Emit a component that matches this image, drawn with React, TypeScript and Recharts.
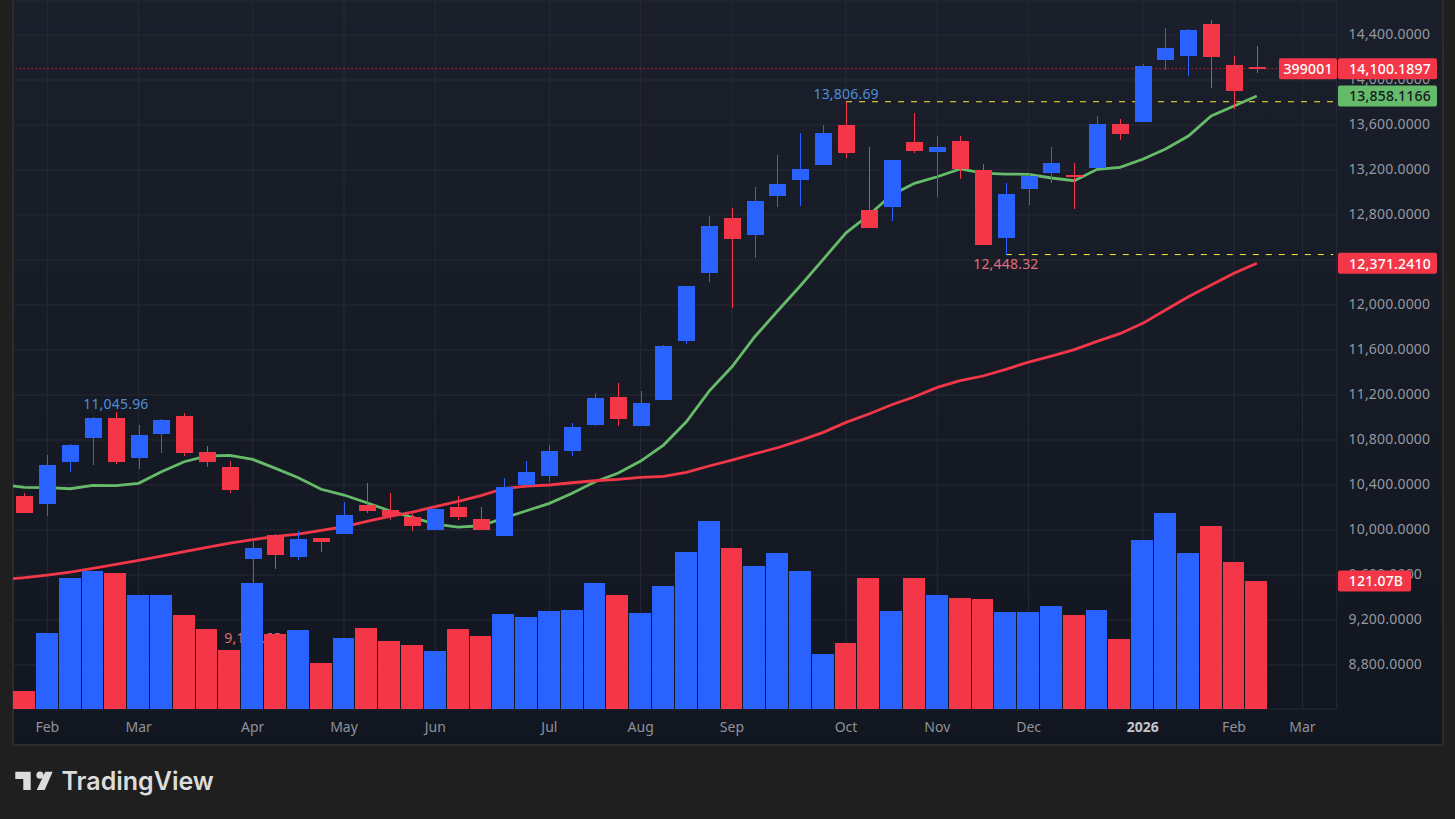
import React from 'react';
import {
  Bar,
  CartesianGrid,
  ComposedChart,
  Line,
  ReferenceDot,
  ReferenceLine,
  XAxis,
  YAxis,
} from 'recharts';

// Weekly categories: one lead-in week (off the pane's left edge) then the visible weeks and the empty future slots.
const weeks = [
  '2025-01-20', '2025-01-27', '2025-02-03', '2025-02-10', '2025-02-17', '2025-02-24', '2025-03-03', '2025-03-10',
  '2025-03-17', '2025-03-24', '2025-03-31', '2025-04-07', '2025-04-14', '2025-04-21', '2025-04-28', '2025-05-05',
  '2025-05-12', '2025-05-19', '2025-05-26', '2025-06-02', '2025-06-09', '2025-06-16', '2025-06-23', '2025-06-30',
  '2025-07-07', '2025-07-14', '2025-07-21', '2025-07-28', '2025-08-04', '2025-08-11', '2025-08-18', '2025-08-25',
  '2025-09-01', '2025-09-08', '2025-09-15', '2025-09-22', '2025-09-29', '2025-10-06', '2025-10-13', '2025-10-20',
  '2025-10-27', '2025-11-03', '2025-11-10', '2025-11-17', '2025-11-24', '2025-12-01', '2025-12-08', '2025-12-15',
  '2025-12-22', '2025-12-29', '2026-01-05', '2026-01-12', '2026-01-19', '2026-01-26', '2026-02-02', '2026-02-09',
  '2026-02-16', '2026-02-23', '2026-03-02',
];

const monthTicks = [
  '2025-02-03', '2025-03-03', '2025-04-07', '2025-05-05', '2025-06-02', '2025-07-07', '2025-08-04',
  '2025-09-01', '2025-10-06', '2025-11-03', '2025-12-01', '2026-01-05', '2026-02-02', '2026-02-23',
];
const monthLabels = ['Feb', 'Mar', 'Apr', 'May', 'Jun', 'Jul', 'Aug', 'Sep', 'Oct', 'Nov', 'Dec', '2026', 'Feb', 'Mar'];

const priceTicks = [8800, 9200, 9600, 10000, 10400, 10800, 11200, 11600, 12000, 12400, 12800, 13200, 13600, 14000, 14400];

// Candles, starting at 2025-01-27.
const opens = [
  10302, 10234, 10607, 10820, 10995, 10642, 10856, 11013, 10693, 10560, 9745, 9955, 9762, 9929, 9967,
  10222, 10178, 10115, 10002, 10204, 10098, 9949, 10397, 10480, 10702, 10933, 11182, 10924, 11155, 11680,
  12284, 12773, 12622, 12969, 13111, 13244, 13600, 12844, 12871, 13449, 13360, 13458, 13200, 12595, 13031,
  13173, 13155, 13218, 13609, 13627, 14178, 14213, 14498, 14133, 14115,
];
const closes = [
  10151, 10578, 10755, 10995, 10607, 10844, 10978, 10687, 10607, 10358, 9840, 9780, 9920, 9896, 10133,
  10171, 10124, 10038, 10187, 10118, 10002, 10382, 10515, 10702, 10915, 11173, 10987, 11129, 11635, 12169,
  12702, 12587, 12924, 13075, 13209, 13529, 13351, 12684, 13289, 13369, 13404, 13209, 12533, 12987, 13149,
  13262, 13138, 13609, 13520, 14124, 14284, 14444, 14204, 13902, 14100.19,
];
const highs = [
  10329, 10667, 10764, 11004, 11045.96, 10933, 10987, 11040, 10746, 10613, 9911, 9964, 9991, 9933, 10249,
  10418, 10329, 10142, 10213, 10302, 10204, 10462, 10613, 10755, 10951, 11218, 11306, 11235, 11644, 12169,
  12791, 12862, 13049, 13333, 13529, 13600, 13806.69, 13404, 13289, 13707, 13502, 13502, 13253, 13084, 13164,
  13404, 13262, 13680, 13653, 14142, 14462, 14453, 14533, 14213, 14302,
];
const lows = [
  10148, 10127, 10518, 10580, 10589, 10545, 10687, 10660, 10562, 10331, 9118.68, 9656, 9736, 9807, 9967,
  10154, 10091, 9993, 10002, 10091, 10002, 9949, 10397, 10426, 10658, 10924, 10924, 10924, 11155, 11653,
  12204, 11976, 12418, 12871, 12880, 13244, 13307, 12684, 12747, 13351, 12960, 13120, 12533, 12448.32, 12889,
  13084, 12853, 13218, 13467, 13627, 14089, 14035, 13929, 13742, 14062,
];
// Volume in billions.
const volumes = [
  17.0, 71.9, 123.9, 130.5, 128.6, 107.8, 107.8, 88.9, 75.7, 55.8, 119.2, 70.9, 74.7, 43.5, 67.2,
  76.6, 64.3, 60.5, 54.9, 75.7, 69.1, 89.9, 87.0, 92.7, 93.6, 119.2, 107.8, 90.8, 116.3, 148.5,
  177.8, 152.3, 135.3, 147.6, 130.5, 52.0, 62.4, 123.9, 92.7, 123.9, 107.8, 105.0, 104.0, 91.8, 91.8,
  97.4, 88.9, 93.6, 66.2, 159.9, 185.4, 147.6, 173.1, 139.0, 121.07,
];
// Moving averages, starting with the lead-in week.
const greenAverage = [
  10403, 10379, 10376, 10367, 10397, 10394, 10415, 10518, 10607, 10658, 10664, 10628, 10548, 10465, 10362, 10311,
  10242, 10171, 10113, 10053, 10026, 10038, 10106, 10171, 10237, 10326, 10429, 10504, 10613, 10755, 10962,
  11235, 11451, 11718, 11947, 12171, 12406, 12642, 12800, 12978, 13082, 13140, 13209, 13173, 13164, 13162,
  13129, 13105, 13206, 13224, 13295, 13387, 13502, 13680, 13769, 13858.12,
];
const redAverage = [
  9559, 9576, 9600, 9626, 9659, 9695, 9730, 9769, 9807, 9846, 9884, 9914, 9944, 9964, 9997, 10029,
  10077, 10122, 10160, 10207, 10255, 10305, 10369, 10391, 10400, 10420, 10438, 10450, 10468, 10477, 10513,
  10569, 10622, 10678, 10731, 10797, 10868, 10957, 11031, 11114, 11185, 11268, 11327, 11369, 11428, 11493,
  11546, 11603, 11677, 11745, 11837, 11955, 12074, 12178, 12282, 12371.24,
];

const extremeLabels = [
  { week: '2025-02-24', text: '11,045.96', above: true },
  { week: '2025-04-07', text: '9,118.68', above: false },
  { week: '2025-10-06', text: '13,806.69', above: true },
  { week: '2025-11-24', text: '12,448.32', above: false },
];

const lastPrice = 14100.19;
const lastGreen = 13858.12;
const lastRed = 12371.24;
const lastVolume = 121.07;
const highWeek = '2025-10-06';
const highValue = 13806.69;
const lowWeek = '2025-11-24';
const lowValue = 12448.32;
const lastWeekSlot = '2026-03-02';

const rows = weeks.map((week, i) => ({
  week,
  open: opens[i - 1],
  close: closes[i - 1],
  high: highs[i - 1],
  low: lows[i - 1],
  volume: volumes[i - 1],
  green: greenAverage[i],
  red: redAverage[i],
}));

const FONT = '"Noto Sans", sans-serif';
const UP = '#2962ff';
const DOWN = '#f43748';
const GREEN = '#66bb6a';
const YELLOW = '#ffeb3b';
const SHIFT = 23; // the svg starts this far left of the page so the lead-in week can be hidden
const FRAME = '#1f1f1f';
const BAND = 22.82;

function Candle(props: any) {
  const { x, y, width, height, payload } = props;
  if (!payload || payload.open == null || !height) return null;
  const { open, close, high, low } = payload;
  const perUnit = height / (high - low);
  const top = y + (high - Math.max(open, close)) * perUnit;
  const bottom = y + (high - Math.min(open, close)) * perUnit;
  const color = close < open ? DOWN : UP;
  const cx = x + width / 2;
  const left = Math.round(cx - 8.2);
  const mark = extremeLabels.find((m) => m.week === payload.week);
  return (
    <g>
      <rect x={left + 8} y={y} width={1} height={height} fill={color} shapeRendering="crispEdges" />
      <rect
        x={left}
        y={top}
        width={17}
        height={Math.max(bottom - top, 1.5)}
        fill={color}
        shapeRendering="crispEdges"
      />
      {mark ? (
        <text
          x={cx}
          y={mark.above ? y - 8.5 : y + height + 8.5}
          textAnchor="middle"
          dominantBaseline="central"
          fontFamily={FONT}
          fontSize={14}
          letterSpacing={0.2}
          fill={mark.above ? '#4f8edb' : '#e46e78'}
        >
          {mark.text}
        </text>
      ) : null}
    </g>
  );
}

function VolumeBar(props: any) {
  const { x, y, height, payload } = props;
  if (!payload || payload.volume == null) return null;
  const left = Math.round(x);
  return (
    <rect
      x={left}
      y={y}
      width={Math.round(x + BAND) - left - 1}
      height={height}
      fill={payload.close < payload.open ? DOWN : UP}
      shapeRendering="crispEdges"
    />
  );
}

function MonthTick(props: any) {
  const { x, payload } = props;
  const label = monthLabels[monthTicks.indexOf(payload.value)];
  const strong = label === '2026';
  return (
    <text
      x={x}
      y={726.5}
      textAnchor="middle"
      dominantBaseline="central"
      fontFamily={FONT}
      fontSize={14}
      fontWeight={strong ? 700 : 400}
      fill={strong ? '#c3c5cc' : '#8f929b'}
    >
      {label}
    </text>
  );
}

function PriceTick(props: any) {
  const { y, payload } = props;
  const label = payload.value.toLocaleString('en-US', { minimumFractionDigits: 4, maximumFractionDigits: 4 });
  return (
    <text
      x={1348.5 + SHIFT}
      y={y - 1.5}
      dominantBaseline="central"
      fontFamily={FONT}
      fontSize={14}
      letterSpacing={0.2}
      fill="#9598a1"
    >
      {label}
    </text>
  );
}

function tag(left: number, right: number, fill: string, color: string, text: string, textX?: number) {
  return (props: any) => {
    const cy = props.cy;
    return (
      <g>
        <rect x={left + SHIFT} y={cy - 10.5} width={right - left} height={21} rx={2} fill={fill} />
        <text
          x={(textX ?? (left + right) / 2) + SHIFT}
          y={cy}
          textAnchor="middle"
          dominantBaseline="central"
          fontFamily={FONT}
          fontSize={14}
          letterSpacing={0.2}
          fontWeight={500}
          fill={color}
        >
          {text}
        </text>
      </g>
    );
  };
}

function ExtendedDash(props: any) {
  const { x1, y1, x2, y2 } = props;
  return <line x1={x1} y1={y1} x2={x2 + 8} y2={y2} stroke={YELLOW} strokeWidth={1} strokeDasharray="6 7" />;
}

const axisIds: any = { xAxisId: 't', yAxisId: 'p' };

export default function App() {
  return (
    <div
      style={{
        position: 'absolute',
        left: 0,
        top: 0,
        width: 1455,
        height: 819,
        overflow: 'hidden',
        background: FRAME,
      }}
    >
      <div
        style={{
          position: 'absolute',
          left: 12,
          top: -2,
          width: 1428,
          height: 744,
          border: '2px solid #2c2c2c',
          background: 'linear-gradient(180deg, #1a1f2b 0%, #121620 100%)',
        }}
      />
      <div style={{ position: 'absolute', left: -SHIFT, top: 0 }}>
        <ComposedChart
          width={1455 + SHIFT}
          height={819}
          data={rows}
          margin={{ top: 0, left: 13.28, right: 18.3, bottom: 75 }}
        >
          <CartesianGrid {...axisIds} stroke="#262a35" strokeWidth={1} />
          <XAxis
            xAxisId="t"
            dataKey="week"
            type="category"
            ticks={monthTicks}
            interval={0}
            height={35}
            axisLine={false}
            tickLine={false}
            tick={MonthTick}
          />
          <XAxis xAxisId="v" dataKey="week" type="category" hide />
          <YAxis
            yAxisId="p"
            orientation="right"
            width={100}
            domain={[8409.1, 14711.1]}
            ticks={priceTicks}
            interval={0}
            axisLine={false}
            tickLine={false}
            tick={PriceTick}
          />
          <YAxis yAxisId="v" hide domain={[0, 670.6]} />
          <ReferenceLine
            {...axisIds}
            y={lastPrice}
            stroke={DOWN}
            strokeWidth={1}
            strokeDasharray="1 3"
            zIndex={50}
          />
          <ReferenceLine
            {...axisIds}
            segment={[
              { x: highWeek, y: highValue },
              { x: lastWeekSlot, y: highValue },
            ]}
            shape={ExtendedDash}
            zIndex={50}
          />
          <ReferenceLine
            {...axisIds}
            segment={[
              { x: lowWeek, y: lowValue },
              { x: lastWeekSlot, y: lowValue },
            ]}
            shape={ExtendedDash}
            zIndex={50}
          />
          <Line
            {...axisIds}
            dataKey="green"
            stroke={GREEN}
            strokeWidth={2.8}
            dot={false}
            activeDot={false}
            isAnimationActive={false}
            zIndex={100}
          />
          <Line
            {...axisIds}
            dataKey="red"
            stroke={DOWN}
            strokeWidth={2.8}
            dot={false}
            activeDot={false}
            isAnimationActive={false}
            zIndex={100}
          />
          <Bar
            {...axisIds}
            dataKey={(d: any) => (d.open == null ? null : [d.low, d.high])}
            barSize={17}
            shape={Candle}
            isAnimationActive={false}
            zIndex={200}
          />
          <Bar
            xAxisId="v"
            yAxisId="v"
            dataKey="volume"
            barSize={22}
            shape={VolumeBar}
            isAnimationActive={false}
            zIndex={300}
          />
          <ReferenceDot
            {...axisIds}
            x={lastWeekSlot}
            y={lastPrice}
            ifOverflow="visible"
            shape={tag(1279, 1337, DOWN, '#ffffff', '399001')}
            zIndex={3000}
          />
          <ReferenceDot
            {...axisIds}
            x={lastWeekSlot}
            y={lastPrice}
            ifOverflow="visible"
            shape={tag(1338, 1437, DOWN, '#ffffff', '14,100.1897', 1390)}
            zIndex={3000}
          />
          <ReferenceDot
            {...axisIds}
            x={lastWeekSlot}
            y={lastGreen}
            ifOverflow="visible"
            shape={tag(1338, 1437, GREEN, '#131722', '13,858.1166', 1390)}
            zIndex={3000}
          />
          <ReferenceDot
            {...axisIds}
            x={lastWeekSlot}
            y={lastRed}
            ifOverflow="visible"
            shape={tag(1338, 1437, DOWN, '#ffffff', '12,371.2410', 1390)}
            zIndex={3000}
          />
          <ReferenceDot
            xAxisId="v"
            yAxisId="v"
            x={lastWeekSlot}
            y={lastVolume}
            ifOverflow="visible"
            shape={tag(1338, 1411, DOWN, '#ffffff', '121.07B', 1376)}
            zIndex={3000}
          />
        </ComposedChart>
      </div>
      <div
        style={{
          position: 'absolute',
          left: 0,
          top: 0,
          width: 12,
          height: 744,
          background: FRAME,
          borderRight: '1px solid #2c2c2c',
        }}
      />
      <svg
        style={{ position: 'absolute', left: 0, top: 755, display: 'block' }}
        width={240}
        height={50}
        viewBox="0 755 240 50"
      >
        <polygon points="15.3,771.7 30.7,771.7 30.7,790 23.3,790 23.3,779 15.3,779" fill="#dcdcdc" />
        <circle cx={40} cy={775.2} r={3.6} fill="#dcdcdc" />
        <polygon points="36.7,790 45.3,771.7 52.7,771.7 44.7,790" fill="#dcdcdc" />
        <text x={61.5} y={790} fontFamily="Inter, sans-serif" fontWeight={600} fontSize={25} fill="#dcdcdc">
          TradingView
        </text>
      </svg>
    </div>
  );
}
